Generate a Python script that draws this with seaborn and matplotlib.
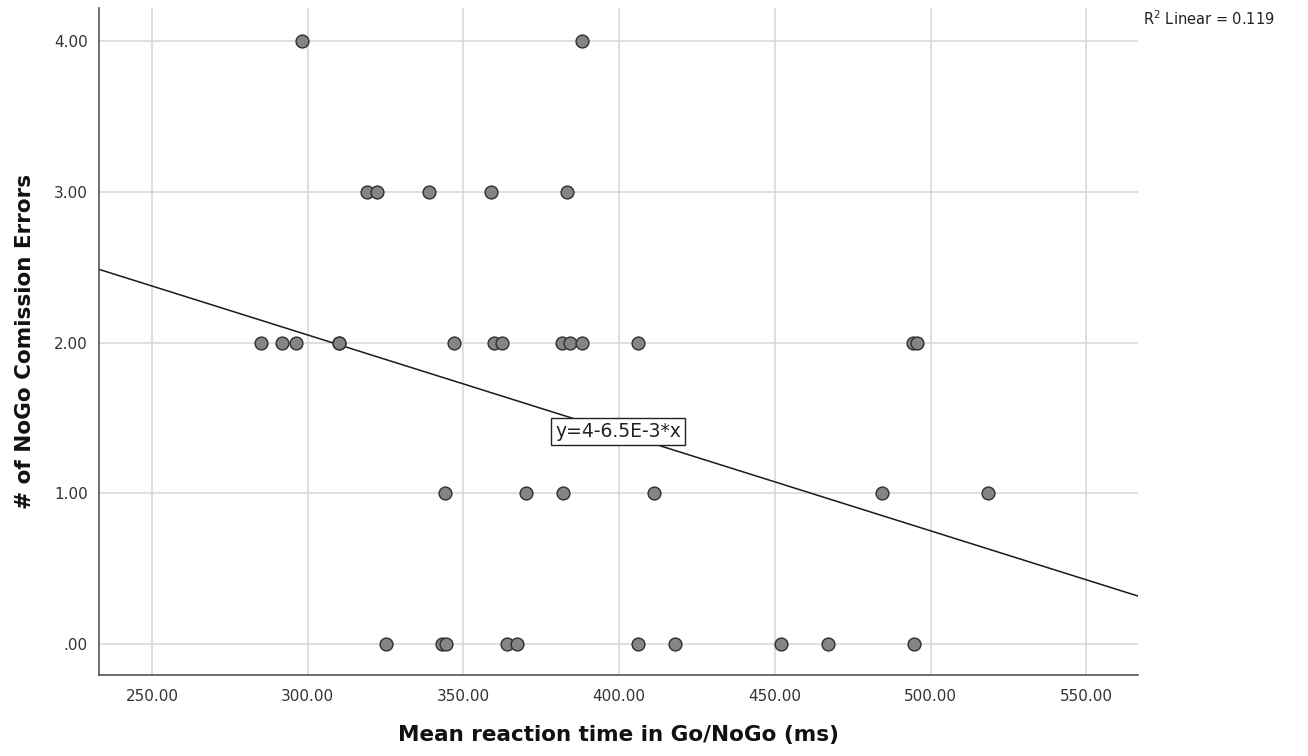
import matplotlib
matplotlib.use("Agg")
import matplotlib.pyplot as plt
import numpy as np
import pandas as pd
import seaborn as sns

# Mean RT (ms) per participant, grouped by number of NoGo commission errors
rt_4 = [298.1, 388.0]
rt_3 = [318.9, 322.1, 338.9, 359.0, 383.1]
rt_2 = [284.9, 291.8, 296.1, 310.0, 310.0, 347.1, 359.8, 362.5, 381.7,
        384.2, 388.0, 406.1, 494.4, 495.5]
rt_1 = [344.1, 370.0, 381.9, 411.2, 484.3, 518.3]
rt_0 = [325.0, 343.0, 344.3, 363.9, 367.2, 406.0, 418.0, 452.0, 467.0, 494.8]

# linear fit printed on the chart
intercept = 4.0
slope = -6.5e-3
r_squared = 0.119

x_ticks = [250, 300, 350, 400, 450, 500, 550]
y_ticks = [0, 1, 2, 3, 4]

rt = rt_4 + rt_3 + rt_2 + rt_1 + rt_0
errors = [4] * len(rt_4) + [3] * len(rt_3) + [2] * len(rt_2) + [1] * len(rt_1) + [0] * len(rt_0)
df = pd.DataFrame({"rt": rt, "errors": errors})

sns.set_theme(style="white")
plt.rcParams["font.family"] = ["DejaVu Sans"]

fig = plt.figure(figsize=(13.08, 7.56), dpi=100)
ax = fig.add_axes([0.0757, 0.1071, 0.7946, 0.8823])

xmin, xmax = 233, 566.7
ax.set_xlim(xmin, xmax)
ax.set_ylim(-0.207, 4.22)

ax.set_xticks(x_ticks)
ax.set_yticks(y_ticks)
ax.grid(True, color="#d9d9d9", linewidth=1.2)
ax.set_axisbelow(True)

# fit line across the full x range
line_x = np.array([xmin, xmax])
line_df = pd.DataFrame({"x": line_x, "y": intercept + slope * line_x})
sns.lineplot(data=line_df, x="x", y="y", ax=ax, color="#1a1a1a", linewidth=1.1)

sns.scatterplot(data=df, x="rt", y="errors", ax=ax, s=85, color="#858585",
                edgecolor="#2e2e2e", linewidth=1.0, zorder=3)

ax.set_xticklabels([f"{v:.2f}" for v in x_ticks])
ax.set_yticklabels([f"{v:.2f}".lstrip("0") if v == 0 else f"{v:.2f}" for v in y_ticks])
ax.tick_params(axis="both", length=0, labelsize=11, colors="#333333")
ax.tick_params(axis="x", pad=10)
ax.tick_params(axis="y", pad=8)

for side in ["top", "right"]:
    ax.spines[side].set_visible(False)
for side in ["left", "bottom"]:
    ax.spines[side].set_color("#555555")
    ax.spines[side].set_linewidth(1.2)

ax.set_xlabel("Mean reaction time in Go/NoGo (ms)", fontsize=15.5, fontweight="bold",
              labelpad=15, color="#111111")
ax.set_ylabel("# of NoGo Comission Errors", fontsize=15.5, fontweight="bold",
              labelpad=14, color="#111111")

ax.text(399.6, 1.41, "y=4-6.5E-3*x", fontsize=13.5, ha="center", va="center",
        color="#222222", zorder=4,
        bbox=dict(boxstyle="square,pad=0.2", facecolor="white", edgecolor="#222222",
                  linewidth=1.0))

fig.text(0.874, 0.975, f"R$^2$ Linear = {r_squared:.3f}", fontsize=10.5,
         ha="left", va="center", color="#222222")

fig.savefig("out.png", dpi=100)
